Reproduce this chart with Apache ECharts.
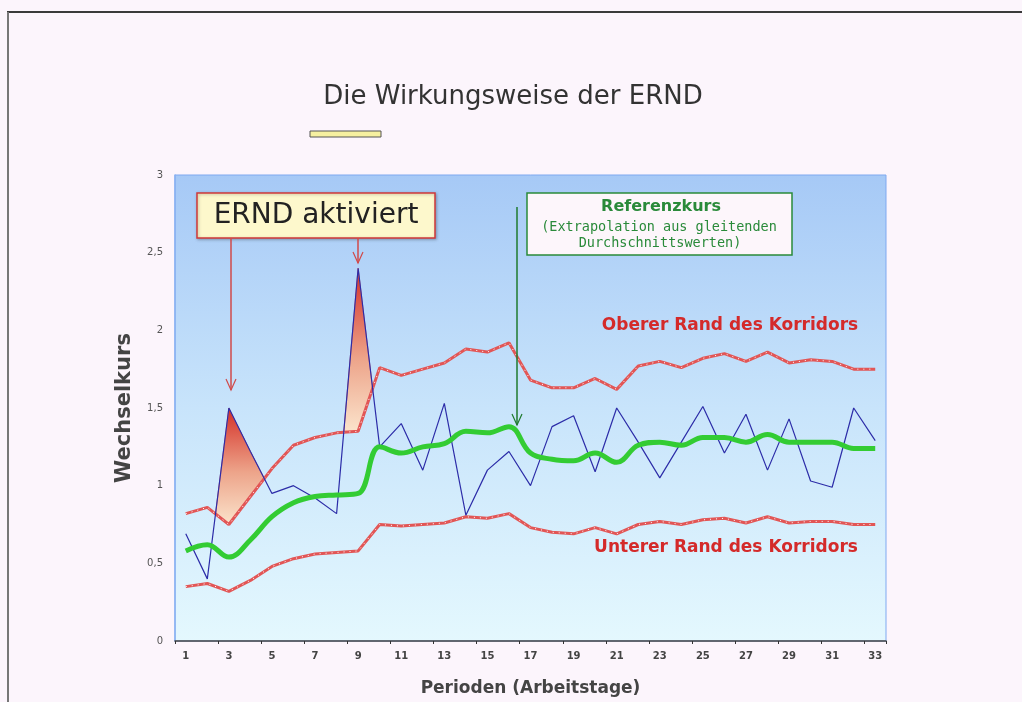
<!DOCTYPE html>
<html>
<head>
<meta charset="utf-8">
<script src="https://cdn.jsdelivr.net/npm/echarts@6/dist/echarts.min.js"></script>
<style>
html,body{margin:0;padding:0;background:#fcf5fc;}
#c{width:1022px;height:702px;}
</style>
</head>
<body>
<div id="c"></div>
<script>
// ---- data ----
const periods = ['1','2','3','4','5','6','7','8','9','10','11','12','13','14','15','16','17','18','19','20','21','22','23','24','25','26','27','28','29','30','31','32','33'];
const wechselkurs = [0.69,0.40,1.50,1.22,0.95,1.00,0.92,0.82,2.40,1.25,1.40,1.10,1.53,0.81,1.10,1.22,1.00,1.38,1.45,1.09,1.50,1.28,1.05,1.28,1.51,1.21,1.46,1.10,1.43,1.03,0.99,1.50,1.29];
const referenzkurs = [0.58,0.62,0.54,0.65,0.80,0.89,0.93,0.94,0.95,1.25,1.21,1.25,1.27,1.35,1.34,1.38,1.21,1.17,1.16,1.21,1.15,1.26,1.28,1.26,1.31,1.31,1.28,1.33,1.28,1.28,1.28,1.24,1.24];
const obererRand = [0.82,0.86,0.75,0.93,1.11,1.26,1.31,1.34,1.35,1.76,1.71,1.75,1.79,1.88,1.86,1.92,1.68,1.63,1.63,1.69,1.62,1.77,1.80,1.76,1.82,1.85,1.80,1.86,1.79,1.81,1.80,1.75,1.75];
const untererRand = [0.35,0.37,0.32,0.39,0.48,0.53,0.56,0.57,0.58,0.75,0.74,0.75,0.76,0.80,0.79,0.82,0.73,0.70,0.69,0.73,0.69,0.75,0.77,0.75,0.78,0.79,0.76,0.80,0.76,0.77,0.77,0.75,0.75];
const yTicks = ['0','0,5','1','1,5','2','2,5','3'];

// regions where the rate is above the upper band
function breakouts(){
  const polys=[]; let cur=null;
  for(let i=0;i<wechselkurs.length;i++){
    const d = wechselkurs[i]-obererRand[i];
    if(i>0){
      const dp = wechselkurs[i-1]-obererRand[i-1];
      if((dp<=0 && d>0) || (dp>0 && d<=0)){
        const t = dp/(dp-d);
        const y = wechselkurs[i-1]+t*(wechselkurs[i]-wechselkurs[i-1]);
        const pt = {i:i-1,t:t,y:y};
        if(d>0){ cur={top:[pt],bot:[]}; }
        else { cur.top.push(pt); polys.push(cur); cur=null; }
      }
    }
    if(d>0){ if(!cur) cur={top:[],bot:[]}; cur.top.push({i:i,t:0,y:wechselkurs[i]}); cur.bot.push({i:i,t:0,y:obererRand[i]}); }
  }
  if(cur) polys.push(cur);
  return polys;
}

const chart = echarts.init(document.getElementById('c'));
const FONT = 'DejaVu Sans';
function arrow(x, y1, y2, color){
  return [
    {type:'polyline', shape:{points:[[x,y1],[x,y2]]}, style:{stroke:color, lineWidth:1.5}, z:20},
    {type:'polyline', shape:{points:[[x-5,y2-11],[x,y2],[x+5,y2-11]]}, style:{stroke:color, lineWidth:1.2, fill:null}, z:20}
  ];
}
const option = {
  backgroundColor:'#fcf5fc',
  animation:false,
  grid:{left:175,right:136,top:175,bottom:61,show:true,borderColor:'#7fa9f0',borderWidth:1,
    backgroundColor:new echarts.graphic.LinearGradient(0,0,0,1,[{offset:0,color:'#a6c9f6'},{offset:0.5,color:'#c8e4fb'},{offset:1,color:'#e4f8fe'}])},
  xAxis:{type:'category',data:periods,boundaryGap:true,
    name:'Perioden (Arbeitstage)',nameLocation:'middle',nameGap:39,
    nameTextStyle:{fontFamily:FONT,fontWeight:'bold',fontSize:17,color:'#444'},
    axisLine:{lineStyle:{color:'#444',width:1.5}},
    axisTick:{show:true,length:3,lineStyle:{color:'#333'}},
    axisLabel:{interval:1,fontFamily:FONT,fontSize:10,fontWeight:'bold',color:'#444',margin:10},
    splitLine:{show:false}},
  yAxis:{type:'value',min:0,max:3,interval:0.5,
    name:'Wechselkurs',nameLocation:'middle',nameGap:40,nameRotate:90,
    nameTextStyle:{fontFamily:FONT,fontWeight:'bold',fontSize:21,color:'#444'},
    axisLine:{show:true,lineStyle:{color:'#8ab2f2',width:1.5}},
    axisTick:{show:false},
    axisLabel:{fontFamily:FONT,fontSize:10,color:'#555',margin:12,formatter:v=>yTicks[Math.round(v*2)]},
    splitLine:{show:false}},
  series:[
    {type:'custom',coordinateSystem:'cartesian2d',data:[0],z:1,silent:true,
     renderItem:function(params,api){
       const px = p => {
         const a = api.coord([p.i,p.y]);
         if(p.t===0) return a;
         const b = api.coord([p.i+1,p.y]);
         return [a[0]+p.t*(b[0]-a[0]), a[1]];
       };
       const children = breakouts().map(p=>{
         const pts = p.top.concat(p.bot.slice().reverse()).map(px);
         return {type:'polygon',shape:{points:pts},
           style:{fill:new echarts.graphic.LinearGradient(0,0,0,1,[{offset:0,color:'#d42e26'},{offset:0.55,color:'#eda48a'},{offset:1,color:'#fbe4cc'}]),stroke:'#e07060',lineWidth:1}};
       });
       return {type:'group',children:children};
     }},
    {type:'line',data:obererRand,symbol:'none',z:3,lineStyle:{color:'#e25656',width:3}},
    {type:'line',data:obererRand,symbol:'none',z:4,lineStyle:{color:'#ffffff',width:1,type:[1,5]}},
    {type:'line',data:untererRand,symbol:'none',z:3,lineStyle:{color:'#e25656',width:3}},
    {type:'line',data:untererRand,symbol:'none',z:4,lineStyle:{color:'#ffffff',width:1,type:[1,5]}},
    {type:'line',data:wechselkurs,symbol:'none',z:5,lineStyle:{color:'#2c2ca8',width:1.2}},
    {type:'line',data:referenzkurs,symbol:'none',smooth:0.4,z:6,lineStyle:{color:'#33cc33',width:5}}
  ],
  graphic:[
    {type:'polyline',shape:{points:[[7,12],[1022,12]]},style:{stroke:'#3a3a3a',lineWidth:2}},
    {type:'polyline',shape:{points:[[8,12],[8,702]]},style:{stroke:'#777',lineWidth:2}},
    {type:'text',x:513,y:97,style:{text:'Die Wirkungsweise der ERND',font:'26px "DejaVu Sans"',fill:'#333',align:'center',verticalAlign:'middle'}},
    {type:'rect',shape:{x:310,y:131,width:71,height:6},style:{fill:'#f6f0a0',stroke:'#555',lineWidth:1}},
    {type:'rect',shape:{x:197,y:193,width:238,height:45},style:{fill:'#fdf8cc',stroke:'#d03838',lineWidth:1.5,shadowBlur:3,shadowColor:'rgba(0,0,0,0.25)',shadowOffsetX:1,shadowOffsetY:1},z:20},
    {type:'text',x:316,y:216,style:{text:'ERND aktiviert',font:'28px "DejaVu Sans"',fill:'#222',align:'center',verticalAlign:'middle'},z:21},
    ...arrow(231,238,390,'#d04a4a'),
    ...arrow(358,238,263,'#d04a4a'),
    {type:'rect',shape:{x:527,y:193,width:265,height:62},style:{fill:'#fdf6fb',stroke:'#2a8a3a',lineWidth:1.5},z:20},
    {type:'text',x:661,y:207,style:{text:'Referenzkurs',font:'bold 16px "DejaVu Sans"',fill:'#2a8a3a',align:'center',verticalAlign:'middle'},z:21},
    {type:'text',x:659,y:227,style:{text:'(Extrapolation aus gleitenden',font:'13.5px "DejaVu Sans Mono"',fill:'#2a8a3a',align:'center',verticalAlign:'middle'},z:21},
    {type:'text',x:660,y:243,style:{text:'Durchschnittswerten)',font:'13.5px "DejaVu Sans Mono"',fill:'#2a8a3a',align:'center',verticalAlign:'middle'},z:21},
    ...arrow(517,207,425,'#1f7a2e'),
    {type:'text',x:730,y:326,style:{text:'Oberer Rand des Korridors',font:'bold 17px "DejaVu Sans"',fill:'#d42a2a',align:'center',verticalAlign:'middle'},z:21},
    {type:'text',x:726,y:548,style:{text:'Unterer Rand des Korridors',font:'bold 17px "DejaVu Sans"',fill:'#d42a2a',align:'center',verticalAlign:'middle'},z:21}
  ]
};
chart.setOption(option);
</script>
</body>
</html>
